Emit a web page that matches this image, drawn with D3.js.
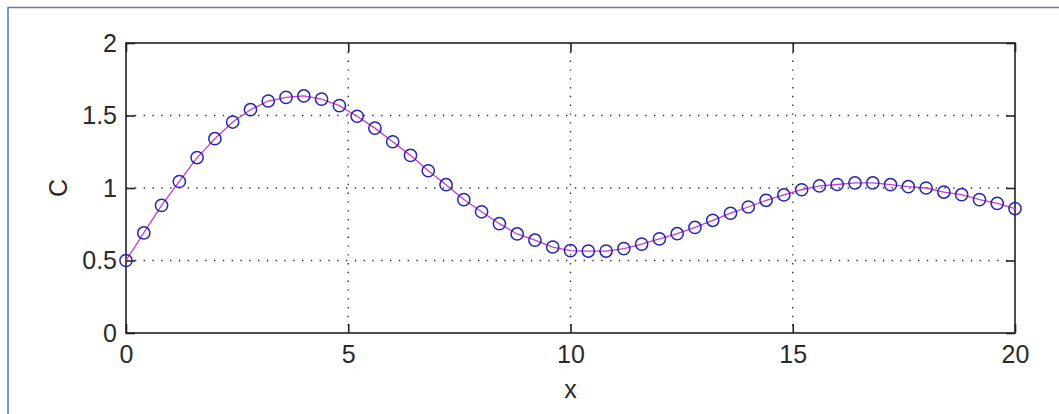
<!DOCTYPE html>
<html>
<head>
<meta charset="utf-8">
<script src="https://cdn.jsdelivr.net/npm/d3@7"></script>
<style>
  html, body { margin: 0; padding: 0; background: #fff; }
  svg { display: block; }
  text { font-family: "Liberation Sans", Arial, sans-serif; fill: #2a2a2a; }
</style>
</head>
<body>
<svg id="chart" width="1059" height="414"></svg>
<script>
// Sample positions along x and the measured C at each one
const xValues = [
  0, 0.4, 0.8, 1.2, 1.6, 2.0, 2.4, 2.8, 3.2, 3.6,
  4.0, 4.4, 4.8, 5.2, 5.6, 6.0, 6.4, 6.8, 7.2, 7.6,
  8.0, 8.4, 8.8, 9.2, 9.6, 10.0, 10.4, 10.8, 11.2, 11.6,
  12.0, 12.4, 12.8, 13.2, 13.6, 14.0, 14.4, 14.8, 15.2, 15.6,
  16.0, 16.4, 16.8, 17.2, 17.6, 18.0, 18.4, 18.8, 19.2, 19.6,
  20.0
];
const cValues = [
  0.50, 0.69, 0.88, 1.045, 1.21, 1.34, 1.455, 1.54, 1.60, 1.625,
  1.635, 1.613, 1.568, 1.495, 1.413, 1.319, 1.225, 1.119, 1.023, 0.92,
  0.836, 0.754, 0.683, 0.64, 0.593, 0.568, 0.565, 0.565, 0.582, 0.613,
  0.649, 0.685, 0.728, 0.777, 0.826, 0.869, 0.915, 0.952, 0.988, 1.014,
  1.024, 1.035, 1.035, 1.023, 1.009, 1.0, 0.972, 0.954, 0.92, 0.894,
  0.858
];

const xTicks = [0, 5, 10, 15, 20];
const xTickLabels = ["0", "5", "10", "15", "20"];
const yTicks = [0, 0.5, 1, 1.5, 2];
const yTickLabels = ["0", "0.5", "1", "1.5", "2"];
const xTitle = "x";
const yTitle = "C";

const svg = d3.select("#chart");

// Outer window frame (left and top edges)
svg.append("path")
  .attr("d", "M8,414 V7.5 H1059")
  .attr("fill", "none")
  .attr("stroke", "#5b7db4")
  .attr("stroke-width", 1.6);

const plotL = 126, plotR = 1015, plotT = 43, plotB = 333;
const x = d3.scaleLinear().domain([0, 20]).range([plotL, plotR]);
const y = d3.scaleLinear().domain([0, 2]).range([plotB, plotT]);

// Dotted grid at interior ticks
const grid = svg.append("g")
  .attr("stroke", "#333")
  .attr("stroke-width", 1.4)
  .attr("stroke-dasharray", "1.4 7.4");
grid.selectAll("line.gx")
  .data(xTicks.filter(t => t > 0 && t < 20))
  .join("line")
  .attr("class", "gx")
  .attr("x1", d => x(d)).attr("x2", d => x(d))
  .attr("y1", plotT).attr("y2", plotB);
grid.selectAll("line.gy")
  .data(yTicks.filter(t => t > 0 && t < 2))
  .join("line")
  .attr("class", "gy")
  .attr("x1", plotL).attr("x2", plotR)
  .attr("y1", d => y(d)).attr("y2", d => y(d));

// Axes with inward ticks on all four sides
const tickLen = 9;
const fontSize = "25px";

const bottomAxis = d3.axisBottom(x).tickValues(xTicks)
  .tickFormat((d, i) => xTickLabels[i]).tickSizeInner(-tickLen).tickSizeOuter(0).tickPadding(12);
const topAxis = d3.axisTop(x).tickValues(xTicks)
  .tickFormat("").tickSizeInner(-tickLen).tickSizeOuter(0);
const leftAxis = d3.axisLeft(y).tickValues(yTicks)
  .tickFormat((d, i) => yTickLabels[i]).tickSizeInner(-tickLen).tickSizeOuter(0).tickPadding(9);
const rightAxis = d3.axisRight(y).tickValues(yTicks)
  .tickFormat("").tickSizeInner(-tickLen).tickSizeOuter(0);

function styleAxis(g) {
  g.select(".domain").remove();
  g.selectAll(".tick line").attr("stroke", "#222").attr("stroke-width", 1.6);
  g.selectAll(".tick text")
    .attr("fill", "#2a2a2a")
    .style("font-size", fontSize)
    .style("font-family", "'Liberation Sans', Arial, sans-serif");
}

svg.append("g").attr("transform", `translate(0,${plotB})`).call(bottomAxis).call(styleAxis);
svg.append("g").attr("transform", `translate(0,${plotT})`).call(topAxis).call(styleAxis);
svg.append("g").attr("transform", `translate(${plotL},0)`).call(leftAxis).call(styleAxis);
svg.append("g").attr("transform", `translate(${plotR},0)`).call(rightAxis).call(styleAxis);

// Plot box
svg.append("rect")
  .attr("x", plotL).attr("y", plotT)
  .attr("width", plotR - plotL).attr("height", plotB - plotT)
  .attr("fill", "none")
  .attr("stroke", "#222")
  .attr("stroke-width", 1.6);

// Series: magenta line through blue open circles
const points = xValues.map((xv, i) => ({ x: xv, c: cValues[i] }));

svg.append("path")
  .datum(points)
  .attr("fill", "none")
  .attr("stroke", "#c83ccf")
  .attr("stroke-width", 1.3)
  .attr("d", d3.line().x(d => x(d.x)).y(d => y(d.c)));

svg.append("g")
  .selectAll("circle")
  .data(points)
  .join("circle")
  .attr("cx", d => x(d.x))
  .attr("cy", d => y(d.c))
  .attr("r", 6.1)
  .attr("fill", "none")
  .attr("stroke", "#2323b4")
  .attr("stroke-width", 1.5);

// Axis titles
svg.append("text")
  .attr("x", (plotL + plotR) / 2)
  .attr("y", 398)
  .attr("text-anchor", "middle")
  .style("font-size", fontSize)
  .text(xTitle);

svg.append("text")
  .attr("transform", `translate(67,${(plotT + plotB) / 2}) rotate(-90)`)
  .attr("text-anchor", "middle")
  .style("font-size", fontSize)
  .text(yTitle);
</script>
</body>
</html>
